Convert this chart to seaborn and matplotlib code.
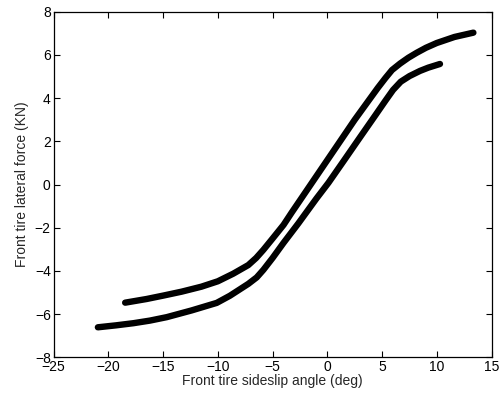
import matplotlib
matplotlib.use("Agg")
import matplotlib.pyplot as plt
import seaborn as sns
import pandas as pd

# Curve A (shifted left, higher)
xa = [-18.46, -16.5, -14.96, -13.3, -11.5, -10.0, -8.6, -7.22, -6.5, -5.85, -5.0,
      -4.0, -3.26, -2.0, -0.5, 1.0, 2.5, 3.6, 4.6, 5.3, 5.9, 6.64, 7.4, 8.16, 9.0,
      9.98, 11.6, 13.33]
ya = [-5.47, -5.3, -5.14, -4.96, -4.73, -4.48, -4.13, -3.73, -3.4, -3.03, -2.5,
      -1.87, -1.3, -0.36, 0.76, 1.88, 3.0, 3.77, 4.47, 4.93, 5.3, 5.6, 5.87, 6.1, 6.33,
      6.55, 6.83, 7.03]

# Curve B (shifted right, lower)
xb = [-20.95, -19.3, -17.7, -16.2, -14.66, -12.4, -10.1, -8.9, -7.22, -6.45, -5.84,
      -5.0, -4.0, -2.65, -1.0, 0.1, 1.5, 3.0, 4.4, 5.3, 6.0, 6.7, 7.5, 8.46,
      9.21, 10.28]
yb = [-6.61, -6.52, -6.42, -6.3, -6.14, -5.83, -5.48, -5.15, -4.6, -4.3, -3.95,
      -3.4, -2.7, -1.8, -0.65, 0.08, 1.1, 2.2, 3.22, 3.88, 4.38, 4.76, 5.02, 5.26,
      5.41, 5.58]

xticks = [-25, -20, -15, -10, -5, 0, 5, 10, 15]
yticks = [-8, -6, -4, -2, 0, 2, 4, 6, 8]

sns.set_style("ticks")
plt.rcParams['font.family'] = ['Liberation Sans', 'DejaVu Sans']

df = pd.concat([
    pd.DataFrame({"x": xa, "y": ya, "curve": "A"}),
    pd.DataFrame({"x": xb, "y": yb, "curve": "B"}),
])

fig = plt.figure(figsize=(5.03, 3.94), dpi=100)
ax = fig.add_axes([0.1064, 0.0931, 0.8711, 0.8772])
sns.lineplot(data=df, x="x", y="y", units="curve", estimator=None, sort=False,
             color="black", linewidth=4.6, solid_capstyle="round",
             solid_joinstyle="round", ax=ax, legend=False)

ax.set_xlim(-25, 15)
ax.set_ylim(-8, 8)
ax.set_xticks(xticks)
ax.set_yticks(yticks)
ax.set_xticklabels([str(t).replace("-", "\u2212") for t in xticks])
ax.set_yticklabels([str(t).replace("-", "\u2212") for t in yticks])
ax.tick_params(direction="in", length=4, width=0.8, top=True, right=True,
               labelsize=10, pad=2, colors="black")
for s in ax.spines.values():
    s.set_visible(True)
    s.set_linewidth(0.9)
    s.set_color("black")
ax.set_xlabel("Front tire sideslip angle (deg)", fontsize=10, labelpad=0)
ax.set_ylabel("Front tire lateral force (KN)", fontsize=10, labelpad=4)

fig.savefig("out.png", dpi=100)
